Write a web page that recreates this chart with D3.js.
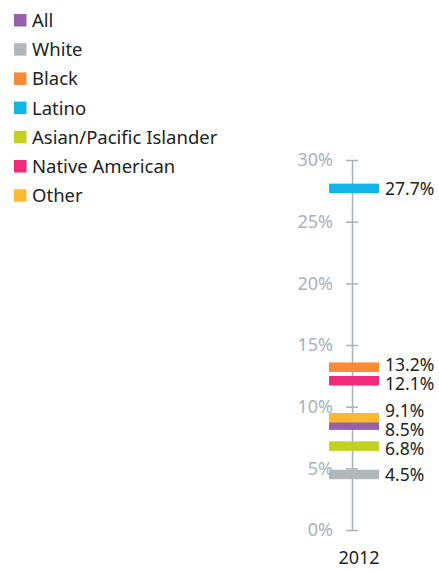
<!DOCTYPE html>
<html>
<head>
<meta charset="utf-8">
<script src="https://cdn.jsdelivr.net/npm/d3@7"></script>
<style>
  body { margin: 0; background: #fff; }
  svg text { font-family: "Noto Sans", "Open Sans", sans-serif; }
</style>
</head>
<body>
<div id="chart"></div>
<script>
const groups = ["All", "White", "Black", "Latino", "Asian/Pacific Islander", "Native American", "Other"];
const values = [8.5, 4.5, 13.2, 27.7, 6.8, 12.1, 9.1];
const colors = ["#9561a9", "#b0b8bc", "#f68a35", "#13b5e8", "#c3d024", "#ef2b79", "#fcb930"];
const yTicks = [0, 5, 10, 15, 20, 25, 30];
const year = "2012";

const width = 439, height = 571;
const axisX = 352;

const svg = d3.select("#chart").append("svg")
    .attr("width", width)
    .attr("height", height);

// legend
const legend = svg.append("g").attr("transform", "translate(14, 14)");
const rows = legend.selectAll("g").data(groups)
  .enter().append("g")
    .attr("transform", (d, i) => `translate(0, ${i * 29.2})`);
rows.append("rect")
    .attr("width", 12.5)
    .attr("height", 12.5)
    .attr("fill", (d, i) => colors[i]);
rows.append("text")
    .attr("x", 18)
    .attr("y", 6.5)
    .attr("dy", "0.35em")
    .attr("fill", "#222")
    .style("font-size", "18.5px")
    .text(d => d);

const yScale = d3.scaleLinear().domain([0, 30]).range([530, 160]);

const yAxis = d3.axisLeft(yScale)
    .tickValues(yTicks)
    .tickFormat(d => d + "%")
    .tickSizeInner(6)
    .tickSizeOuter(0)
    .tickPadding(13);

const yAxisG = svg.append("g")
    .attr("transform", `translate(${axisX}, 0)`)
    .call(yAxis);
yAxisG.select(".domain").attr("stroke", "#a9b1b6").attr("stroke-width", 1.5);
yAxisG.selectAll(".tick line")
    .attr("x1", -6).attr("x2", 6)
    .attr("stroke", "#a9b1b6").attr("stroke-width", 1.5);
yAxisG.selectAll(".tick text")
    .attr("fill", "#a9b1b6")
    .style("font-size", "18px")
    .style("font-family", "'Noto Sans', sans-serif");

// bars
const barW = 50, barH = 9.5;
svg.append("g").selectAll("rect").data(values)
  .enter().append("rect")
    .attr("x", axisX - barW / 2 + 2)
    .attr("y", d => yScale(d) - barH / 2)
    .attr("width", barW)
    .attr("height", barH)
    .attr("fill", (d, i) => colors[i]);

// value labels, nudged apart where they crowd
const minGap = 19;
const labels = values.map((v, i) => ({ v, y: yScale(v) }))
    .sort((a, b) => a.y - b.y);
for (let k = 0; k < 40; k++) {
  for (let i = 1; i < labels.length; i++) {
    const gap = labels[i].y - labels[i - 1].y;
    if (gap < minGap) {
      const push = (minGap - gap) / 2;
      labels[i].y += push;
      labels[i - 1].y -= push;
    }
  }
}
svg.append("g").selectAll("text").data(labels)
  .enter().append("text")
    .attr("x", axisX + 33)
    .attr("y", d => d.y)
    .attr("dy", "0.36em")
    .attr("fill", "#222")
    .style("font-size", "17.5px")
    .text(d => d.v.toFixed(1) + "%");

svg.append("text")
    .attr("x", axisX + 7)
    .attr("y", 564)
    .attr("text-anchor", "middle")
    .attr("fill", "#222")
    .style("font-size", "18px")
    .text(year);
</script>
</body>
</html>
